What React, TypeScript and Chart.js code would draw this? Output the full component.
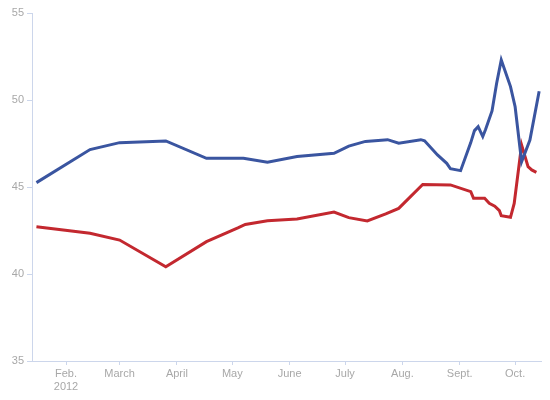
import {useEffect, useRef} from "react";
import {Chart, registerables} from "chart.js";

Chart.register(...registerables);

// day of 2012, Jan 1 = 0
const monthDays = [31, 60, 91, 121, 152, 182, 213, 244, 274];
const monthLabels: (string | string[])[] = [['Feb.', '2012'], 'March', 'April', 'May', 'June', 'July', 'Aug.', 'Sept.', 'Oct.'];
const yTicks = [35, 40, 45, 50, 55];

const blueDays = [15, 44, 60, 85, 107, 127, 140, 156, 176, 184, 193, 205, 211, 223, 225, 232, 237, 239, 244.5, 250, 252, 254, 256.5, 258, 261.5, 264, 266.5, 271.5, 274, 277.5, 282, 287];
const blueValues = [45.25, 47.15, 47.55, 47.65, 46.65, 46.65, 46.42, 46.75, 46.94, 47.35, 47.62, 47.72, 47.52, 47.72, 47.66, 46.84, 46.36, 46.05, 45.94, 47.55, 48.24, 48.47, 47.9, 48.3, 49.37, 50.96, 52.3, 50.77, 49.61, 46.45, 47.7, 50.5];

const redDays = [15, 44, 60, 85, 107, 124, 128, 140, 156, 176, 184, 194, 204, 211, 224, 239, 250, 251.5, 257.5, 260, 263, 265.5, 266.5, 271.5, 273.5, 277.5, 281, 283, 285.5];
const redValues = [42.72, 42.34, 41.95, 40.42, 41.86, 42.65, 42.85, 43.06, 43.16, 43.56, 43.24, 43.05, 43.45, 43.77, 45.15, 45.12, 44.73, 44.35, 44.35, 44.06, 43.9, 43.64, 43.35, 43.26, 44.06, 47.41, 46.17, 45.98, 45.84];

const axisColor = '#ccd6eb';
const labelColor = '#a8a8a8';

const App = () => {
    const canvasRef = useRef<HTMLCanvasElement>(null);

    useEffect(() => {
        document.body.style.margin = '0';
        const ctx = canvasRef.current;
        if (!ctx) return;

        const toPoints = (xs: number[], ys: number[]) => xs.map((x, i) => ({x, y: ys[i]}));

        const chart = new Chart(ctx, {
            type: 'line',
            data: {
                datasets: [
                    {
                        data: toPoints(blueDays, blueValues),
                        borderColor: '#3a55a0',
                        backgroundColor: '#3a55a0',
                        borderWidth: 3,
                        pointRadius: 0,
                        tension: 0,
                    },
                    {
                        data: toPoints(redDays, redValues),
                        borderColor: '#c3282f',
                        backgroundColor: '#c3282f',
                        borderWidth: 3,
                        pointRadius: 0,
                        tension: 0,
                    },
                ],
            },
            options: {
                animation: false,
                responsive: true,
                maintainAspectRatio: false,
                layout: {padding: {top: 13, right: 9, bottom: 0, left: 0}},
                plugins: {legend: {display: false}, tooltip: {enabled: false}},
                scales: {
                    x: {
                        type: 'linear',
                        min: 12.6,
                        max: 288,
                        afterBuildTicks: (axis) => {
                            axis.ticks = monthDays.map(v => ({value: v}));
                        },
                        afterFit: (axis) => {
                            axis.height = 39;
                        },
                        ticks: {
                            color: labelColor,
                            font: {family: 'Liberation Sans', size: 11},
                            padding: 2,
                            maxRotation: 0,
                            autoSkip: false,
                            callback: (value) => {
                                const i = monthDays.indexOf(Number(value));
                                return i >= 0 ? monthLabels[i] : '';
                            },
                        },
                        grid: {drawOnChartArea: false, drawTicks: true, tickLength: 4, color: axisColor},
                        border: {display: true, color: axisColor, width: 1},
                    },
                    y: {
                        min: 35,
                        max: 55,
                        afterBuildTicks: (axis) => {
                            axis.ticks = yTicks.map(v => ({value: v}));
                        },
                        afterFit: (axis) => {
                            axis.width = 32;
                        },
                        ticks: {
                            color: labelColor,
                            font: {family: 'Liberation Sans', size: 11},
                            padding: 3,
                        },
                        grid: {drawOnChartArea: false, drawTicks: true, tickLength: 5, color: axisColor},
                        border: {display: true, color: axisColor, width: 1},
                    },
                },
            },
        });
        return () => {
            chart.destroy();
        };
    }, []);

    return (
        <div style={{width: 550, height: 400, position: 'relative'}}>
            <canvas ref={canvasRef}></canvas>
        </div>
    );
};

export default App;
